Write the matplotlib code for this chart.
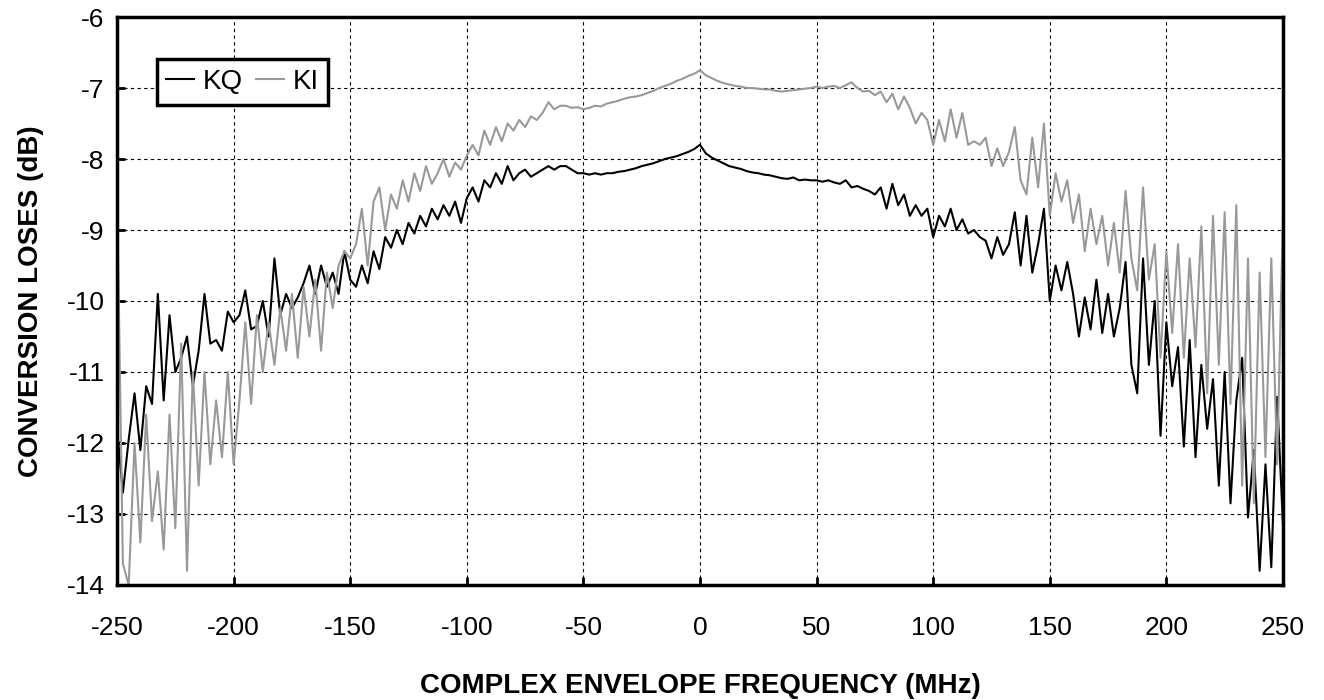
import numpy as np
import matplotlib.pyplot as plt

# frequency grid (MHz), one sample every 2.5 MHz
freq = np.arange(-250, 250.1, 2.5)

# KQ conversion loss (dB)
kq = [
    # -250 .. -200
    -11.8, -12.7, -11.95, -11.3, -12.1, -11.2, -11.45, -9.9, -11.4, -10.2, -11.0,
    -10.8, -10.5, -11.2, -10.7, -9.9, -10.6, -10.55, -10.7, -10.15, -10.3,
    # -197.5 .. -150
    -10.2, -9.85, -10.4, -10.35, -10.0, -10.5, -9.4, -10.2, -9.9, -10.1,
    -9.95, -9.75, -9.5, -9.9, -9.5, -9.8, -9.6, -9.9, -9.3, -9.7,
    # -147.5 .. -100
    -9.8, -9.5, -9.75, -9.3, -9.55, -9.1, -9.25, -9.0, -9.2, -8.9,
    -9.05, -8.8, -8.95, -8.7, -8.85, -8.65, -8.8, -8.6, -8.9, -8.55,
    # -97.5 .. -50
    -8.4, -8.6, -8.3, -8.4, -8.2, -8.35, -8.1, -8.3, -8.2, -8.15,
    -8.25, -8.2, -8.15, -8.1, -8.15, -8.1, -8.1, -8.15, -8.2, -8.2,
    # -47.5 .. 0
    -8.22, -8.2, -8.22, -8.2, -8.2, -8.18, -8.17, -8.15, -8.13, -8.1,
    -8.08, -8.06, -8.03, -8.0, -7.98, -7.96, -7.93, -7.9, -7.86, -7.8,
    # 2.5 .. 50
    -7.92, -7.98, -8.02, -8.06, -8.1, -8.12, -8.14, -8.17, -8.19, -8.2,
    -8.22, -8.23, -8.25, -8.27, -8.28, -8.26, -8.3, -8.29, -8.3, -8.3,
    # 52.5 .. 100
    -8.32, -8.3, -8.33, -8.35, -8.3, -8.4, -8.38, -8.42, -8.45, -8.5,
    -8.4, -8.7, -8.35, -8.65, -8.5, -8.8, -8.65, -8.8, -8.7, -9.1,
    # 102.5 .. 150
    -8.8, -8.95, -8.7, -9.0, -8.85, -9.05, -9.0, -9.1, -9.15, -9.4,
    -9.1, -9.35, -9.2, -8.75, -9.5, -8.8, -9.6, -9.2, -8.7, -10.0,
    # 152.5 .. 200
    -9.5, -9.85, -9.45, -9.9, -10.5, -9.95, -10.4, -9.7, -10.45, -9.9,
    -10.5, -10.1, -9.45, -10.9, -11.3, -9.4, -10.9, -10.0, -11.9, -10.3,
    # 202.5 .. 250
    -11.2, -10.65, -12.05, -10.55, -12.2, -10.9, -11.8, -11.1, -12.6, -11.0,
    -12.85, -11.4, -10.8, -13.05, -12.1, -13.8, -12.3, -13.75, -11.35, -13.15,
]

# KI conversion loss (dB)
ki = [
    # -250 .. -200
    -8.4, -13.7, -14.0, -12.0, -13.4, -11.6, -13.1, -12.4, -13.5, -11.6, -13.2,
    -10.6, -13.8, -11.0, -12.6, -11.0, -12.3, -11.4, -12.2, -11.0, -12.3,
    # -197.5 .. -150
    -11.4, -10.3, -11.45, -10.2, -11.0, -10.3, -10.9, -10.1, -10.7, -9.9,
    -10.8, -9.8, -10.5, -9.7, -10.7, -9.6, -10.1, -9.5, -9.3, -9.4,
    # -147.5 .. -100
    -9.2, -8.7, -9.5, -8.6, -8.4, -9.0, -8.5, -8.7, -8.3, -8.6,
    -8.2, -8.45, -8.1, -8.35, -8.2, -8.0, -8.25, -8.05, -8.15, -7.95,
    # -97.5 .. -50
    -7.8, -7.95, -7.6, -7.8, -7.55, -7.75, -7.5, -7.6, -7.45, -7.55,
    -7.4, -7.45, -7.35, -7.2, -7.3, -7.25, -7.25, -7.28, -7.27, -7.3,
    # -47.5 .. 0
    -7.28, -7.25, -7.26, -7.22, -7.2, -7.18, -7.15, -7.13, -7.12, -7.1,
    -7.07, -7.04, -7.0, -6.97, -6.94, -6.9, -6.87, -6.83, -6.8, -6.75,
    # 2.5 .. 50
    -6.82, -6.86, -6.9, -6.93, -6.95, -6.97, -6.98, -7.0, -7.0, -7.01,
    -7.02, -7.02, -7.04, -7.05, -7.04, -7.03, -7.02, -7.01, -7.0, -6.98,
    # 52.5 .. 100
    -7.0, -6.98, -6.97, -7.0, -6.96, -6.92, -7.0, -7.05, -7.04, -7.1,
    -7.05, -7.2, -7.08, -7.3, -7.12, -7.28, -7.5, -7.35, -7.45, -7.8,
    # 102.5 .. 150
    -7.45, -7.75, -7.3, -7.7, -7.35, -7.8, -7.75, -7.8, -7.7, -8.1,
    -7.85, -8.1, -7.9, -7.55, -8.3, -8.5, -7.7, -8.4, -7.5, -8.8,
    # 152.5 .. 200
    -8.2, -8.6, -8.3, -8.9, -8.5, -9.3, -8.7, -9.2, -8.8, -9.5,
    -8.9, -9.6, -8.45, -9.4, -9.85, -8.4, -9.7, -9.2, -10.8, -9.3,
    # 202.5 .. 250
    -10.45, -9.2, -10.8, -9.4, -10.65, -8.95, -11.3, -8.8, -10.9, -8.75,
    -11.45, -8.65, -12.6, -9.4, -12.85, -9.6, -12.2, -9.4, -12.3, -8.8,
]

x_ticks = [-250, -200, -150, -100, -50, 0, 50, 100, 150, 200, 250]
y_ticks = [-14, -13, -12, -11, -10, -9, -8, -7, -6]

plt.rcParams['font.family'] = ['Liberation Sans', 'DejaVu Sans']
plt.rcParams['axes.unicode_minus'] = False

fig = plt.figure(figsize=(13.24, 7.0), dpi=100)
ax = fig.add_axes([0.0884, 0.1643, 0.8806, 0.8114])

ax.plot(freq, kq, color='black', lw=1.5, label='KQ')
ax.plot(freq, ki, color='#999999', lw=1.5, label='KI')

ax.set_xlim(-250, 250)
ax.set_ylim(-14, -6)
ax.set_xticks(x_ticks)
ax.set_yticks(y_ticks)
ax.tick_params(direction='in', length=6, width=2, labelsize=19)
ax.tick_params(axis='x', pad=22)
ax.tick_params(axis='y', pad=9)
ax.grid(True, color='black', linestyle=(0, (3, 3)), linewidth=0.8)

for s in ax.spines.values():
    s.set_linewidth(2.5)

ax.set_xlabel('COMPLEX ENVELOPE FREQUENCY (MHz)', fontsize=20, fontweight='bold', labelpad=24)
ax.set_ylabel('CONVERSION LOSES (dB)', fontsize=20, fontweight='bold', labelpad=16)

leg = ax.legend(loc='upper left', bbox_to_anchor=(0.022, 0.95), ncol=2, fontsize=20,
                fancybox=False, framealpha=1, edgecolor='black', handlelength=1.0,
                handletextpad=0.3, columnspacing=0.5, borderpad=0.35)
leg.get_frame().set_linewidth(2.5)

fig.savefig('out.png', dpi=100)
